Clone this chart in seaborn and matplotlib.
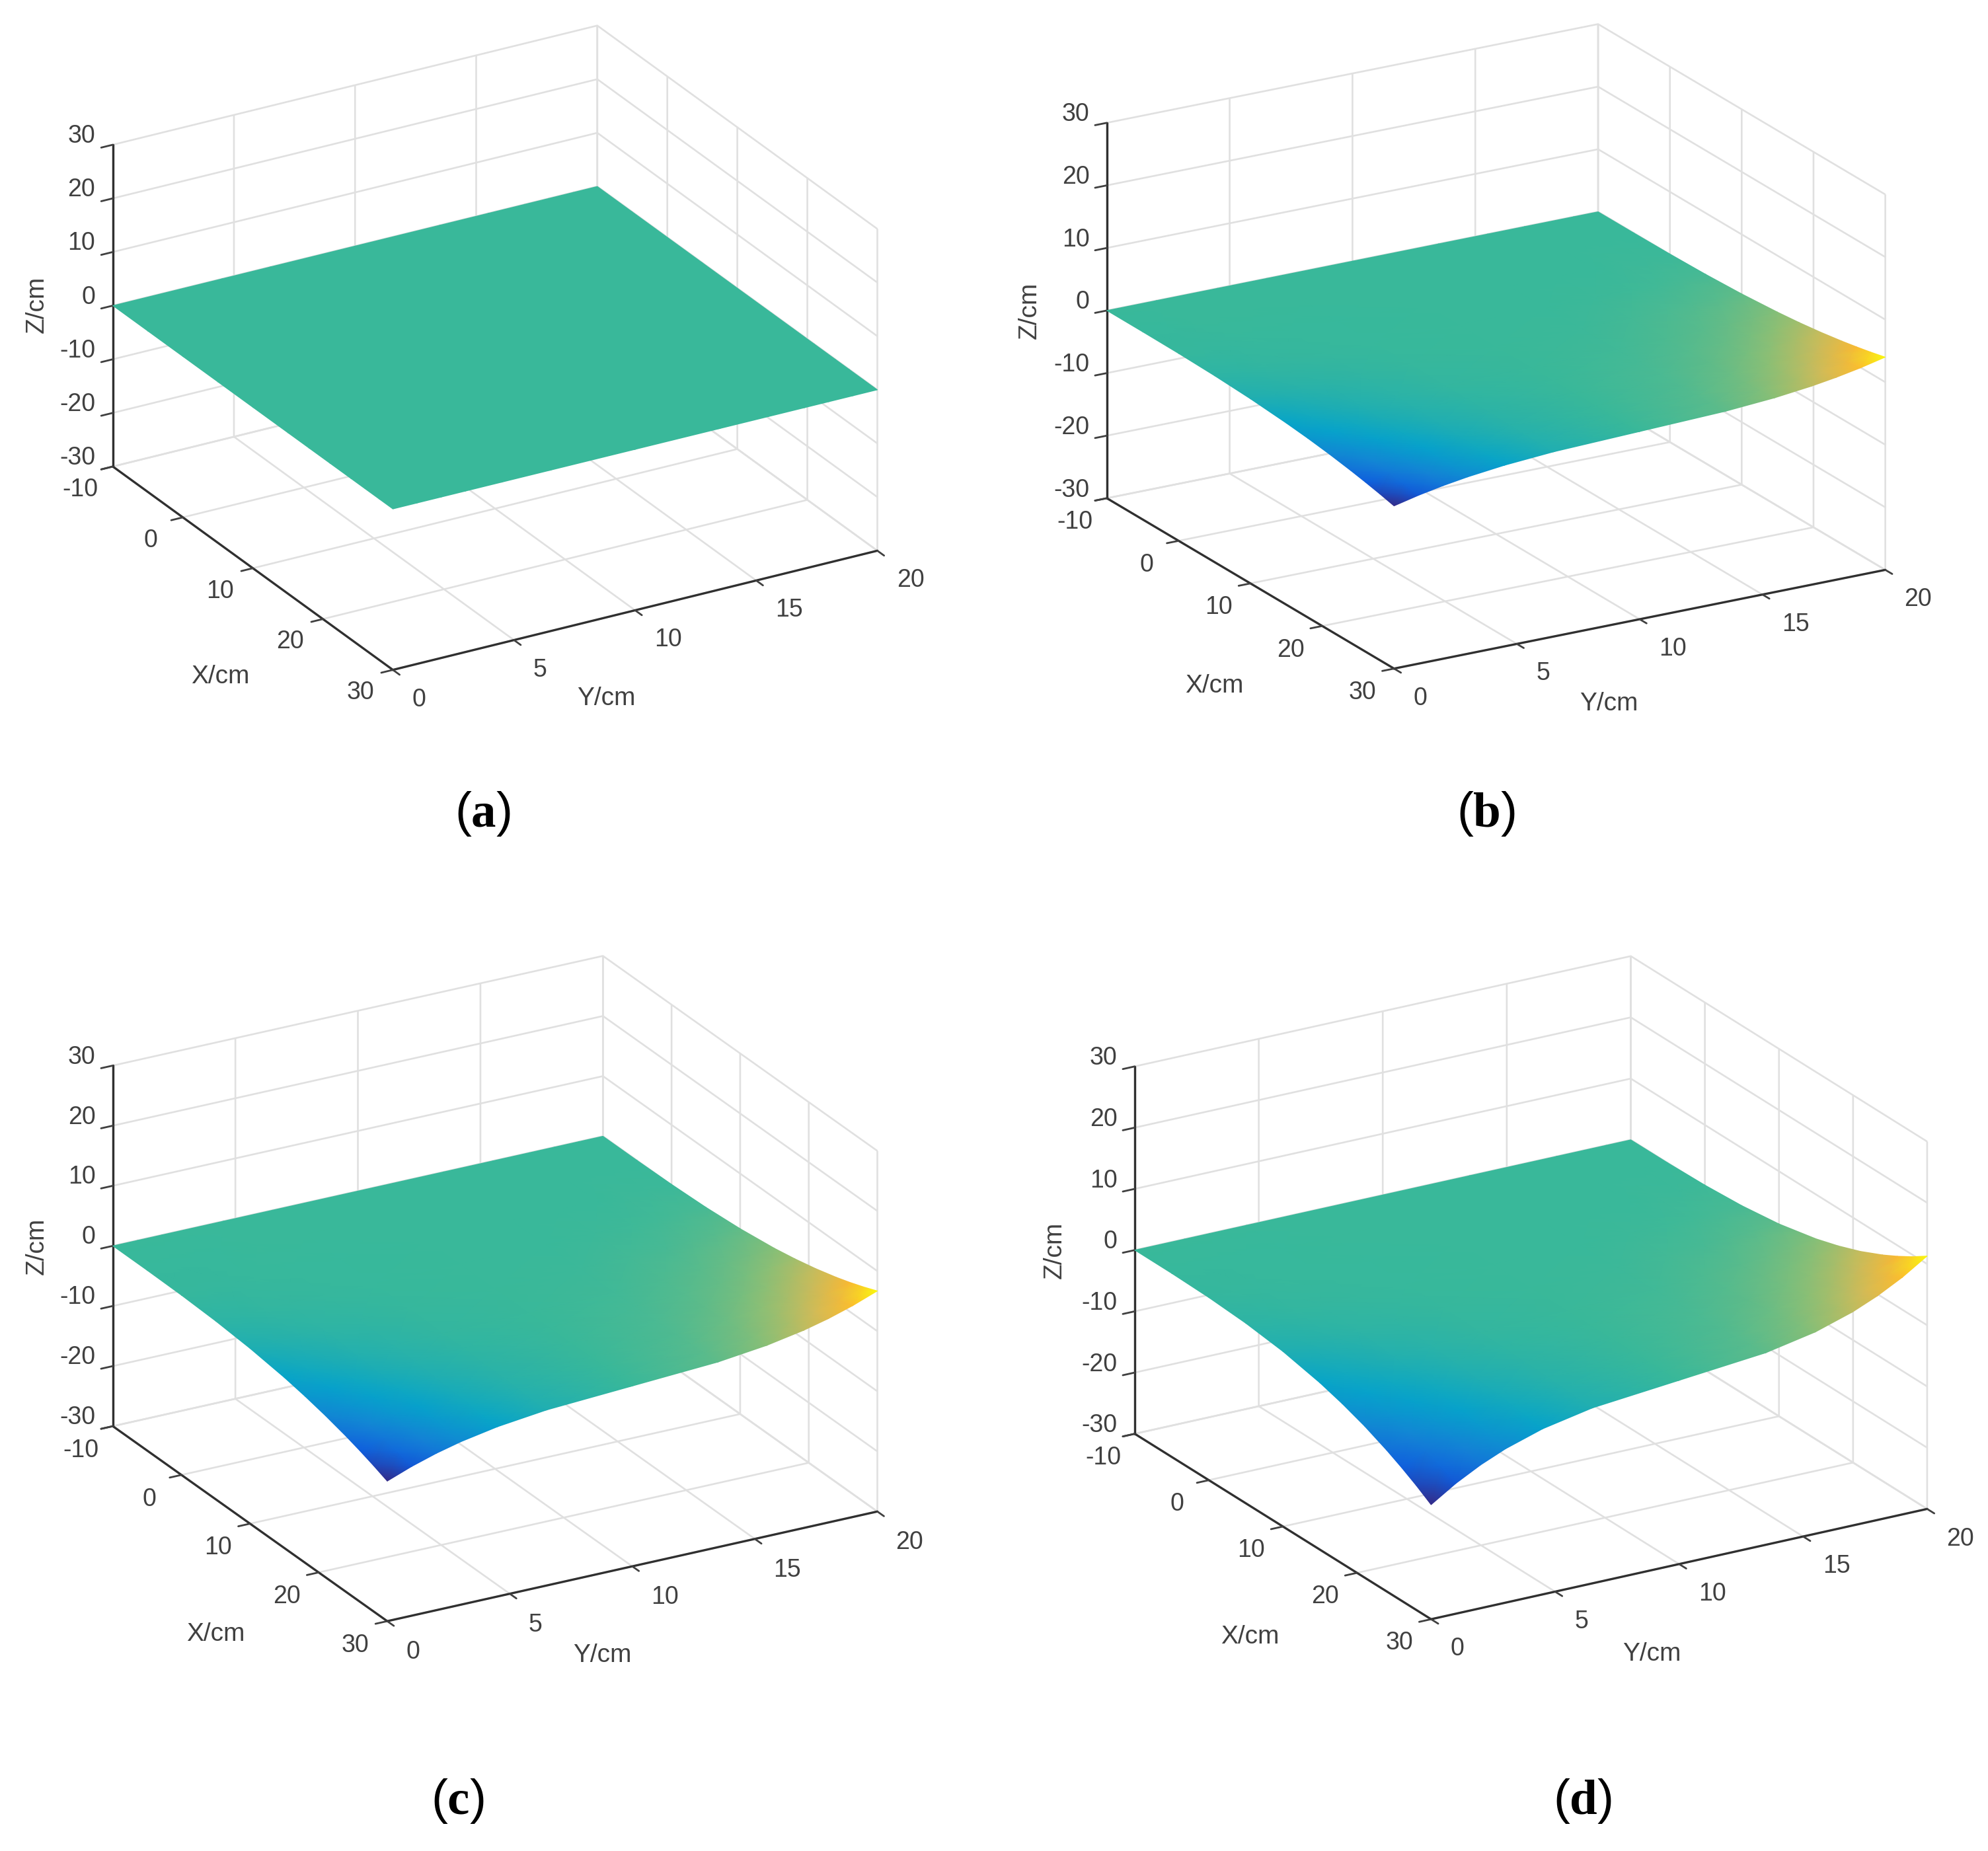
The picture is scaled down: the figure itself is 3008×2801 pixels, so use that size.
import numpy as np
import matplotlib
matplotlib.use('Agg')
import matplotlib.pyplot as plt
from mpl_toolkits.mplot3d import proj3d
import seaborn as sns

# grid the surfaces are read on
x_grid = [-10, -5, 0, 5, 10, 15, 18, 21, 24, 26, 28, 30]
y_grid = [0, 1, 2, 3, 4.5, 6.5, 10, 13.5, 15.5, 17, 18, 19, 20]

x_ticks = [-10, 0, 10, 20, 30]
y_ticks = [0, 5, 10, 15, 20]
z_ticks = [-30, -20, -10, 0, 10, 20, 30]

# Z/cm, one row per x_grid value
z_a = np.zeros((12, 13))
z_b = [
    [0, 0, 0, 0, 0, 0, 0, 0, 0, 0, 0, 0, 0],
    [-.01, -.01, 0, 0, 0, 0, 0, 0, 0, 0, 0, .01, .01],
    [-.06, -.05, -.04, -.03, -.02, -.01, 0, .01, .02, .03, .04, .05, .06],
    [-.21, -.16, -.12, -.09, -.06, -.03, 0, .03, .06, .09, .12, .16, .21],
    [-.50, -.39, -.29, -.22, -.13, -.06, 0, .06, .13, .22, .29, .39, .50],
    [-.98, -.76, -.57, -.42, -.26, -.12, 0, .12, .26, .42, .57, .76, .98],
    [-1.37, -1.06, -.80, -.59, -.36, -.16, 0, .16, .36, .59, .80, 1.06, 1.37],
    [-1.86, -1.44, -1.09, -.80, -.49, -.22, 0, .22, .49, .80, 1.09, 1.44, 1.86],
    [-2.46, -1.90, -1.44, -1.06, -.64, -.30, 0, .30, .64, 1.06, 1.44, 1.90, 2.46],
    [-2.92, -2.25, -1.71, -1.26, -.77, -.35, 0, .35, .77, 1.26, 1.71, 2.25, 2.92],
    [-3.43, -2.65, -2.00, -1.48, -.90, -.41, 0, .41, .90, 1.48, 2.00, 2.65, 3.43],
    [-4, -3.09, -2.34, -1.73, -1.05, -.48, 0, .48, 1.05, 1.73, 2.34, 3.09, 4],
]
z_c = [
    [0, 0, 0, 0, 0, 0, 0, 0, 0, 0, 0, 0, 0],
    [-.01, -.01, -.01, -.01, 0, 0, 0, 0, 0, .01, .01, .01, .01],
    [-.10, -.08, -.06, -.04, -.03, -.01, 0, .01, .03, .04, .06, .08, .10],
    [-.35, -.27, -.20, -.15, -.09, -.04, 0, .04, .09, .15, .20, .27, .35],
    [-.84, -.65, -.49, -.36, -.22, -.10, 0, .10, .22, .36, .49, .65, .84],
    [-1.63, -1.26, -.95, -.70, -.43, -.20, 0, .20, .43, .70, .95, 1.26, 1.63],
    [-2.30, -1.78, -1.34, -.99, -.60, -.28, 0, .28, .60, .99, 1.34, 1.78, 2.30],
    [-3.12, -2.41, -1.82, -1.35, -.82, -.37, 0, .37, .82, 1.35, 1.82, 2.41, 3.12],
    [-4.11, -3.17, -2.40, -1.78, -1.08, -.49, 0, .49, 1.08, 1.78, 2.40, 3.17, 4.11],
    [-4.88, -3.77, -2.85, -2.11, -1.28, -.59, 0, .59, 1.28, 2.11, 2.85, 3.77, 4.88],
    [-5.74, -4.43, -3.35, -2.48, -1.50, -.69, 0, .69, 1.50, 2.48, 3.35, 4.43, 5.74],
    [-6.7, -5.17, -3.91, -2.89, -1.76, -.80, 0, .80, 1.76, 2.89, 3.91, 5.17, 6.7],
]
z_d = [
    [0, 0, 0, 0, 0, 0, 0, 0, 0, 0, 0, 0, 0],
    [-.02, -.02, -.01, -.01, -.01, 0, 0, 0, .01, .01, .01, .02, .02],
    [-.18, -.14, -.11, -.08, -.05, -.02, 0, .02, .05, .08, .11, .14, .18],
    [-.60, -.46, -.35, -.26, -.16, -.07, 0, .07, .16, .26, .35, .46, .60],
    [-1.41, -1.09, -.82, -.61, -.37, -.17, 0, .17, .37, .61, .82, 1.09, 1.41],
    [-2.76, -2.13, -1.61, -1.19, -.72, -.33, 0, .33, .72, 1.19, 1.61, 2.13, 2.76],
    [-3.88, -3.00, -2.27, -1.68, -1.02, -.47, 0, .47, 1.02, 1.68, 2.27, 3.00, 3.88],
    [-5.25, -4.05, -3.07, -2.27, -1.38, -.63, 0, .63, 1.38, 2.27, 3.07, 4.05, 5.25],
    [-6.94, -5.36, -4.05, -3.00, -1.82, -.83, 0, .83, 1.82, 3.00, 4.05, 5.36, 6.94],
    [-8.24, -6.36, -4.81, -3.56, -2.16, -.99, 0, .99, 2.16, 3.56, 4.81, 6.36, 8.24],
    [-9.68, -7.47, -5.65, -4.18, -2.54, -1.16, 0, 1.16, 2.54, 4.18, 5.65, 7.47, 9.68],
    [-11.3, -8.72, -6.60, -4.88, -2.96, -1.36, 0, 1.36, 2.96, 4.88, 6.60, 8.72, 11.3],
]
surfaces = [z_a, z_b, z_c, z_d]
captions = ['a', 'b', 'c', 'd']

parula = ['#352a87', '#0f5cdd', '#1481d6', '#06a4ca', '#38b89b',
          '#87bf77', '#d1bb59', '#fdb92f', '#f9fb0e']

# layout, in pixels of the picture shrunk to 1568 wide
W, H = 3008, 2801
K = 3008 / 1568
panels = [
    dict(elev=25.0, azim=-30.2, box=(439, 442, 280), left=(89, 368), right=(692, 435),
         xlab=(174, 534), ylab=(478, 551), zlab=(29, 240), cap=(381, 642)),
    dict(elev=20.2, azim=-30.2, box=(451, 449, 316), left=(873, 393), right=(1487, 450),
         xlab=(958, 541), ylab=(1269, 555), zlab=(812, 245), cap=(1172, 642)),
    dict(elev=23.5, azim=-29.3, box=(442, 443, 310), left=(89, 1125), right=(692, 1192),
         xlab=(170, 1289), ylab=(475, 1306), zlab=(29, 983), cap=(361, 1421)),
    dict(elev=21.9, azim=-30.8, box=(456, 455, 312), left=(895, 1131), right=(1520, 1190),
         xlab=(986, 1291), ylab=(1303, 1305), zlab=(832, 986), cap=(1248, 1421)),
]

sns.set_theme(style='white')
plt.rcParams['font.family'] = ['Liberation Sans', 'DejaVu Sans']
plt.rcParams['axes.unicode_minus'] = False
plt.rcParams['mathtext.fontset'] = 'custom'
plt.rcParams['mathtext.rm'] = 'Liberation Serif'
plt.rcParams['mathtext.bf'] = 'Liberation Serif:bold'
cmap = sns.blend_palette(parula, as_cmap=True)
text_c = '#404040'
grid_c = '#e0e0e0'

fig = plt.figure(figsize=(W / 100, H / 100), dpi=100, facecolor='white')


def project(ax, xs, ys, zs):
    # where points land in the 2d view of the 3d axes
    xs, ys, zs = np.asarray(xs, float), np.asarray(ys, float), np.asarray(zs, float)
    vx, vy, _ = proj3d.proj_transform(xs.ravel(), ys.ravel(), zs.ravel(), ax.get_proj())
    return np.reshape(vx, xs.shape), np.reshape(vy, xs.shape)


for p, surf, cap in zip(panels, surfaces, captions):
    ax = fig.add_axes([0, 0, 1, 1], projection='3d', proj_type='ortho')
    ax.patch.set_alpha(0)
    ax.set_xlim(-10, 30, view_margin=0)
    ax.set_ylim(0, 20, view_margin=0)
    ax.set_zlim(-30, 30, view_margin=0)
    ax.set_box_aspect(p['box'])
    ax.view_init(elev=p['elev'], azim=p['azim'])
    ax.set_xticks(x_ticks)
    ax.set_yticks(y_ticks)
    ax.set_zticks(z_ticks)
    for axis in (ax.xaxis, ax.yaxis, ax.zaxis):
        axis.set_pane_color((1, 1, 1, 0))
        axis.pane.set_edgecolor((1, 1, 1, 0))
        axis.line.set_color('#303030')
        axis.line.set_linewidth(2.4)
        axis._axinfo['grid'].update(color=grid_c, linewidth=1.9)
        # these come out on the wrong side with outward_factor, so use the inward one
        axis._axinfo['tick'].update(inward_factor=0.3, outward_factor=0,
                                    linewidth={True: 2.0, False: 1.0})
    ax.tick_params(colors=text_c, labelsize=27)
    ax.tick_params(axis='x', pad=24)
    ax.tick_params(axis='y', pad=25)
    ax.tick_params(axis='z', pad=3)
    ax.zaxis.set_ticks_position('lower')
    ax.grid(True)
    for t in ax.xaxis.get_major_ticks():
        t.label1.set_va('baseline')
    for t in ax.yaxis.get_major_ticks():
        t.label1.set_ha('left')
        t.label1.set_va('baseline')
    for t in ax.zaxis.get_major_ticks():
        t.label1.set_ha('right')
        t.label1.set_va('baseline')

    # put the axes so the floor corners fall on the right pixels
    left = (p['left'][0] * K, H - p['left'][1] * K)
    right = (p['right'][0] * K, H - p['right'][1] * K)
    vx, vy = project(ax, [-10, 30], [0, 20], [-30, -30])
    s = (right[0] - left[0]) / (vx[1] - vx[0])
    vl = ax.viewLim
    side = s * vl.width
    x0 = left[0] - s * (vx[0] - vl.x0)
    y0 = left[1] - s * (vy[0] - vl.y0)
    pos = [x0 / W, y0 / H, side / W, side / H]
    ax.set_position(pos)

    # surface goes on a flat axes on top, gouraud gives MATLAB's shading interp look
    XX, YY = np.meshgrid(x_grid, y_grid, indexing='ij')
    ZZ = np.asarray(surf, float)
    top = max(np.abs(ZZ).max(), 1)
    px, py = project(ax, XX, YY, ZZ)
    flat = fig.add_axes(pos, frameon=False)
    flat.pcolormesh(px, py, ZZ, shading='gouraud', cmap=cmap, vmin=-top, vmax=top)
    flat.set_xlim(vl.x0, vl.x1)
    flat.set_ylim(vl.y0, vl.y1)
    flat.axis('off')

    fig.text(p['xlab'][0] * K / W, 1 - p['xlab'][1] * K / H, 'X/cm', color=text_c,
             fontsize=28, ha='center', va='center')
    fig.text(p['ylab'][0] * K / W, 1 - p['ylab'][1] * K / H, 'Y/cm', color=text_c,
             fontsize=28, ha='center', va='center')
    fig.text(p['zlab'][0] * K / W, 1 - p['zlab'][1] * K / H, 'Z/cm', color=text_c,
             fontsize=28, ha='center', va='center', rotation=90)
    fig.text(p['cap'][0] * K / W, 1 - p['cap'][1] * K / H, '($\\mathbf{%s}$)' % cap,
             color='black', fontsize=54, ha='center', va='center')

fig.savefig('out.png', dpi=100, facecolor='white')
